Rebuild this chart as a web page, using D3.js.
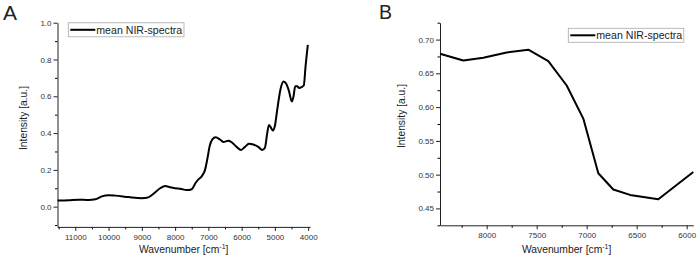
<!DOCTYPE html>
<html>
<head>
<meta charset="utf-8">
<script src="https://cdn.jsdelivr.net/npm/d3@7"></script>
<style>
  body { margin: 0; background: #fff; }
  text { font-family: Arial, "Liberation Sans", sans-serif; fill: #222; }
</style>
</head>
<body>
<script>
// panel A: full mean NIR spectrum
const wavenumberA = [11535, 11200, 10900, 10600, 10400, 10200, 10000, 9800, 9400, 9000, 8850, 8650, 8450, 8300, 8150, 8000, 7850, 7650, 7500, 7380, 7300, 7200, 7100, 7030, 6960, 6880, 6780, 6650, 6550, 6400, 6300, 6150, 6020, 5900, 5780, 5650, 5500, 5380, 5300, 5230, 5180, 5120, 5060, 5000, 4920, 4830, 4740, 4660, 4580, 4490, 4440, 4390, 4330, 4270, 4200, 4130, 4080, 4010];
const intensityA = [0.033, 0.035, 0.038, 0.036, 0.040, 0.056, 0.062, 0.060, 0.052, 0.046, 0.048, 0.070, 0.100, 0.112, 0.106, 0.100, 0.098, 0.090, 0.095, 0.130, 0.148, 0.165, 0.200, 0.260, 0.330, 0.366, 0.377, 0.365, 0.352, 0.358, 0.350, 0.325, 0.308, 0.325, 0.342, 0.338, 0.325, 0.308, 0.320, 0.400, 0.444, 0.430, 0.414, 0.440, 0.540, 0.640, 0.680, 0.668, 0.630, 0.572, 0.600, 0.655, 0.655, 0.645, 0.650, 0.660, 0.760, 0.879];

// panel B: zoom 8500 - 6000
const wavenumberB = [8467, 8234, 8034, 7800, 7584, 7384, 7200, 7034, 6884, 6734, 6567, 6284, 5934];
const intensityB = [0.679, 0.669, 0.673, 0.681, 0.685, 0.668, 0.632, 0.583, 0.502, 0.478, 0.470, 0.4635, 0.504];

const xTicksA = [11000, 10000, 9000, 8000, 7000, 6000, 5000, 4000];
const xMinorA = [11500, 10500, 9500, 8500, 7500, 6500, 5500, 4500];
const yTicksA = [0.0, 0.2, 0.4, 0.6, 0.8, 1.0];
const yMinorA = [-0.1, 0.1, 0.3, 0.5, 0.7, 0.9];

const xTicksB = [8000, 7500, 7000, 6500, 6000];
const xMinorB = [8250, 7750, 7250, 6750, 6250];
const yTicksB = [0.45, 0.50, 0.55, 0.60, 0.65, 0.70];
const yMinorB = [0.425, 0.475, 0.525, 0.575, 0.625, 0.675, 0.725];

const seriesName = 'mean NIR-spectra';

const svg = d3.select('body').append('svg')
  .attr('width', 699)
  .attr('height', 260);

function panel(opts) {
  const x = d3.scaleLinear().domain(opts.xDomain).range(opts.xRange);
  const y = d3.scaleLinear().domain(opts.yDomain).range(opts.yRange);
  const g = svg.append('g');

  // minor ticks first, then major axis
  g.append('g')
    .attr('transform', `translate(0,${opts.yRange[0]})`)
    .call(d3.axisBottom(x).tickValues(opts.xMinor).tickSize(2.5).tickFormat(''))
    .call(a => a.select('.domain').remove());
  g.append('g')
    .attr('transform', `translate(${opts.xRange[0]},0)`)
    .call(d3.axisLeft(y).tickValues(opts.yMinor).tickSize(2.5).tickFormat(''))
    .call(a => a.select('.domain').remove());

  const xa = g.append('g')
    .attr('transform', `translate(0,${opts.yRange[0]})`)
    .call(d3.axisBottom(x).tickValues(opts.xTicks).tickSize(4).tickSizeOuter(0).tickPadding(3).tickFormat(d3.format('d')));
  const ya = g.append('g')
    .attr('transform', `translate(${opts.xRange[0]},0)`)
    .call(d3.axisLeft(y).tickValues(opts.yTicks).tickSize(4).tickSizeOuter(0).tickPadding(2).tickFormat(opts.yFormat));

  [xa, ya].forEach(a => {
    a.selectAll('text').attr('font-size', opts.tickFont).attr('font-family', null).style('fill', '#333');
    a.selectAll('line, path').attr('stroke', '#222');
  });

  g.append('path')
    .datum(opts.wn.map((w, i) => [w, opts.val[i]]))
    .attr('fill', 'none')
    .attr('stroke', '#000')
    .attr('stroke-width', 2)
    .attr('stroke-linejoin', 'round')
    .attr('d', d3.line().x(d => x(d[0])).y(d => y(d[1])).curve(opts.curve));

  // axis titles
  const xt = g.append('text')
    .attr('x', (opts.xRange[0] + opts.xRange[1]) / 2)
    .attr('y', opts.xTitleY)
    .attr('text-anchor', 'middle')
    .attr('font-size', 10.3)
    .text('Wavenumber [cm');
  xt.append('tspan').attr('font-size', 7).attr('dy', -4).text('-1');
  xt.append('tspan').attr('dy', 4).text(']');

  g.append('text')
    .attr('transform', `translate(${opts.yTitleX},${opts.yTitleY}) rotate(-90)`)
    .attr('text-anchor', 'middle')
    .attr('font-size', 10.3)
    .text('Intensity [a.u.]');

  // legend
  const lg = g.append('g').attr('transform', `translate(${opts.legend[0]},${opts.legend[1]})`);
  lg.append('rect')
    .attr('width', opts.legend[2]).attr('height', 14)
    .attr('fill', '#fff').attr('stroke', '#aaa').attr('stroke-width', 0.8);
  lg.append('line')
    .attr('x1', 2).attr('x2', 27).attr('y1', 7).attr('y2', 7)
    .attr('stroke', '#000').attr('stroke-width', 2);
  lg.append('text')
    .attr('x', 28).attr('y', 10.8)
    .attr('font-size', 10.6)
    .text(seriesName);

  g.append('text')
    .attr('x', opts.letter[0]).attr('y', opts.letter[1])
    .attr('font-size', opts.letter[2])
    .text(opts.letter[3]);
}

panel({
  xDomain: [11535, 3945], xRange: [57.5, 310],
  yDomain: [-0.11, 1.0], yRange: [226.9, 22.7],
  xTicks: xTicksA, xMinor: xMinorA, yTicks: yTicksA, yMinor: yMinorA,
  yFormat: d3.format('.1f'), tickFont: 8,
  wn: wavenumberA, val: intensityA, curve: d3.curveMonotoneX,
  xTitleY: 253, yTitleX: 27, yTitleY: 118,
  legend: [68.3, 22.8, 115.7],
  letter: [3, 20, 21, 'A']
});

panel({
  xDomain: [8467, 5934], xRange: [440, 693.3],
  yDomain: [0.425, 0.725], yRange: [225.3, 22.7],
  xTicks: xTicksB, xMinor: xMinorB, yTicks: yTicksB, yMinor: yMinorB,
  yFormat: d3.format('.2f'), tickFont: 8,
  wn: wavenumberB, val: intensityB, curve: d3.curveLinear,
  xTitleY: 253, yTitleX: 405, yTitleY: 116,
  legend: [568.3, 28.3, 115.5],
  letter: [379, 18.5, 19.5, 'B']
});
</script>
</body>
</html>
